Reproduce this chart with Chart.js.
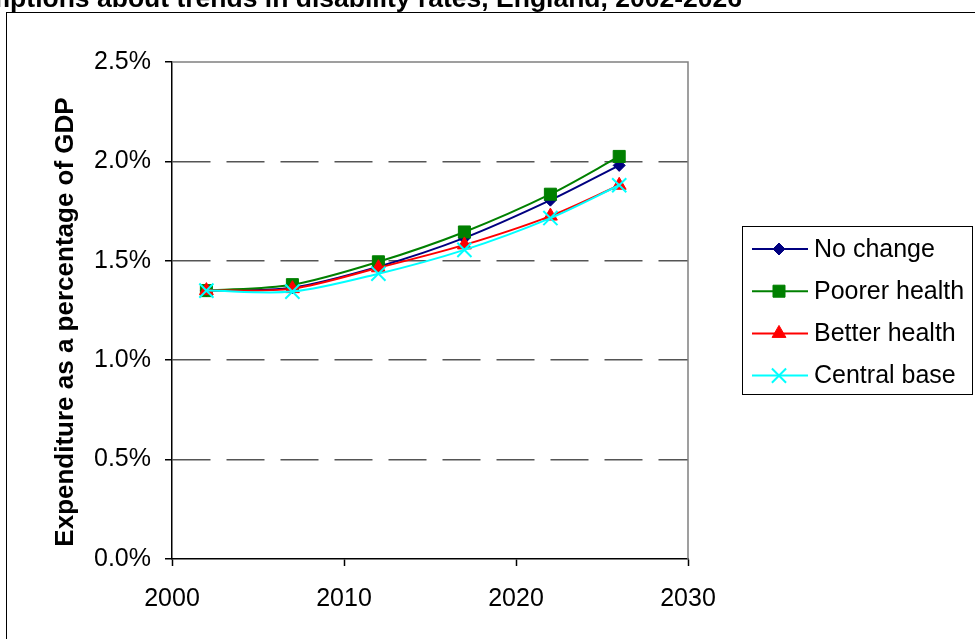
<!DOCTYPE html>
<html>
<head>
<meta charset="utf-8">
<script src="https://cdn.jsdelivr.net/npm/chart.js"></script>
<style>
  html, body { margin: 0; padding: 0; background: #fff; }
  #wrap { width: 975px; height: 639px; position: relative; }
</style>
</head>
<body>
<div id="wrap"><canvas id="chart" width="975" height="639"></canvas></div>
<script>
// values (expenditure, % of GDP)
const years = [2002, 2007, 2012, 2017, 2022, 2026];
const noChange = [1.35, 1.365, 1.47, 1.615, 1.805, 1.98];
const poorerHealth = [1.35, 1.38, 1.495, 1.645, 1.835, 2.025];
const betterHealth = [1.35, 1.36, 1.465, 1.58, 1.725, 1.88];
const centralBase = [1.35, 1.345, 1.435, 1.555, 1.715, 1.88];

const xTicks = [2000, 2010, 2020, 2030];
const yTicks = [0, 0.5, 1.0, 1.5, 2.0, 2.5];

const titleText = "assumptions about trends in disability rates, England, 2002-2026";
const yTitle = "Expenditure as a percentage of GDP";
const FONT = '"Liberation Sans", Arial, sans-serif';

function pts(vals) {
  return years.map((y, i) => ({ x: y, y: vals[i] }));
}

function series(label, vals, color, style, radius, order) {
  return {
    label: label,
    data: pts(vals),
    borderColor: color,
    backgroundColor: color,
    pointBackgroundColor: color,
    pointBorderColor: color,
    borderWidth: 2,
    pointStyle: style,
    pointRadius: radius,
    pointBorderWidth: style == 'crossRot' ? 2 : 1,
    tension: 0.3,
    order: order
  };
}

// outer frame + heading
const framePlugin = {
  id: 'frame',
  beforeDraw(chart) {
    const ctx = chart.ctx;
    ctx.save();
    ctx.strokeStyle = '#000';
    ctx.lineWidth = 1;
    ctx.strokeRect(6.5, 12.5, 1000, 700);
    ctx.fillStyle = '#000';
    ctx.font = 'bold 26.5px ' + FONT;
    ctx.textAlign = 'right';
    ctx.textBaseline = 'alphabetic';
    ctx.fillText(titleText, 742, 7);
    ctx.restore();
  },
  beforeDatasetsDraw(chart) {
    // plot area top / right edge in grey
    const a = chart.chartArea, ctx = chart.ctx;
    ctx.save();
    ctx.strokeStyle = '#808080';
    ctx.lineWidth = 1.5;
    ctx.beginPath();
    ctx.moveTo(a.left, a.top);
    ctx.lineTo(a.right, a.top);
    ctx.lineTo(a.right, a.bottom);
    ctx.stroke();
    ctx.restore();
  },
  afterDraw(chart) {
    const ctx = chart.ctx;
    ctx.save();
    // rotated axis title
    ctx.fillStyle = '#000';
    ctx.font = 'bold 26px ' + FONT;
    ctx.translate(73, 322);
    ctx.rotate(-Math.PI / 2);
    ctx.textAlign = 'center';
    ctx.textBaseline = 'alphabetic';
    ctx.fillText(yTitle, 0, 0);
    ctx.restore();
  }
};

// legend box on the right
const legendPlugin = {
  id: 'boxLegend',
  afterDraw(chart) {
    const ctx = chart.ctx;
    ctx.save();
    ctx.strokeStyle = '#000';
    ctx.lineWidth = 1;
    ctx.strokeRect(742.5, 226.5, 230, 168);

    chart.data.datasets.forEach((ds, i) => {
      let y = 249 + i * 42.2;
      ctx.strokeStyle = ds.borderColor;
      ctx.fillStyle = ds.borderColor;
      ctx.lineWidth = 2;
      ctx.beginPath();
      ctx.moveTo(752, y);
      ctx.lineTo(808, y);
      ctx.stroke();

      ctx.lineWidth = ds.pointBorderWidth;
      Chart.helpers.drawPoint(ctx, {
        pointStyle: ds.pointStyle,
        radius: ds.pointRadius,
        rotation: 0,
        borderWidth: ds.pointBorderWidth
      }, 779, y);

      ctx.fillStyle = '#000';
      ctx.font = '25px ' + FONT;
      ctx.textAlign = 'left';
      ctx.textBaseline = 'middle';
      ctx.fillText(ds.label, 814, y + 1);
    });
    ctx.restore();
  }
};

Chart.defaults.font.family = FONT;
Chart.defaults.font.size = 25;
Chart.defaults.color = '#000';

let chart = new Chart(document.getElementById('chart'), {
  type: 'line',
  data: {
    datasets: [
      series('No change', noChange, '#000080', 'rectRot', 6, 3),
      series('Poorer health', poorerHealth, '#008000', 'rect', 8.5, 2),
      series('Better health', betterHealth, '#FF0000', 'triangle', 8, 1),
      series('Central base', centralBase, '#00FFFF', 'crossRot', 10, 0)
    ]
  },
  options: {
    responsive: false,
    animation: false,
    layout: { padding: { top: 62, right: 287, left: 0, bottom: 0 } },
    plugins: {
      legend: { display: false },
      tooltip: { enabled: false },
      title: { display: false }
    },
    scales: {
      x: {
        type: 'linear',
        min: 2000,
        max: 2030,
        afterBuildTicks: s => { s.ticks = xTicks.map(v => ({ value: v })); },
        afterFit: s => { s.height = 80; },
        ticks: {
          padding: 18,
          callback: v => String(v)
        },
        grid: {
          drawOnChartArea: false,
          tickLength: 7,
          tickColor: '#000',
          tickWidth: 1.5
        },
        border: { color: '#000', width: 1.5 }
      },
      y: {
        min: 0,
        max: 2.5,
        afterBuildTicks: s => { s.ticks = yTicks.map(v => ({ value: v })); },
        afterFit: s => { s.width = 172; },
        ticks: {
          padding: 14,
          callback: v => v.toFixed(1) + '%'
        },
        grid: {
          color: c => (c.tick && c.tick.value > 0 && c.tick.value < 2.5) ? '#555' : 'rgba(0,0,0,0)',
          lineWidth: 1.5,
          tickLength: 7,
          tickColor: '#000',
          tickWidth: 1.5
        },
        border: { color: '#000', width: 1.5, dash: [38, 16] }
      }
    }
  },
  plugins: [framePlugin, legendPlugin]
});
</script>
</body>
</html>
